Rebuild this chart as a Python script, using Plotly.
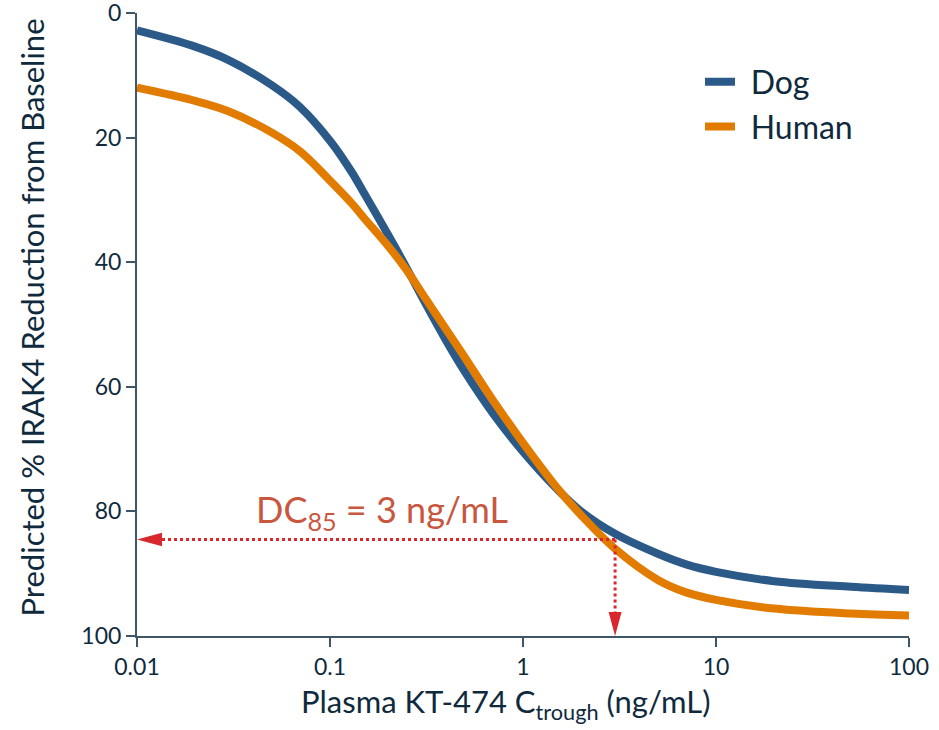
import plotly.graph_objects as go
import numpy as np

# ---- data ----
conc = [0.01, 0.02, 0.03, 0.05, 0.07, 0.1, 0.13, 0.15, 0.2, 0.25, 0.3, 0.4, 0.5,
        0.7, 1, 1.5, 2, 3, 5, 7, 10, 20, 50, 100]
dog = [2.8, 5.4, 7.6, 11.6, 15.1, 20.5, 25.6, 28.9, 35.6, 41.0, 45.6, 52.6, 57.6,
       64.3, 70.4, 76.4, 80.0, 83.6, 86.8, 88.5, 89.7, 91.2, 92.1, 92.6]
human = [12.0, 14.1, 15.8, 19.2, 22.2, 26.9, 30.6, 32.9, 37.4, 41.3, 45.0, 50.8, 55.3,
         62.2, 69.0, 76.2, 80.6, 86.0, 91.0, 93.0, 94.2, 95.6, 96.4, 96.7]
series_names = ["Dog", "Human"]
series_colors = ["#2b5a88", "#e27c00"]

dc85_conc = 3.0
dc85_level = 84.5
x_min, x_max = 0.01, 100
y_min, y_max = 0, 100

x_tickvals = [0.01, 0.1, 1, 10, 100]
x_ticktext = ["0.01", "0.1", "1", "10", "100"]
y_tickvals = [0, 20, 40, 60, 80, 100]

red = "#d9272e"
txt = "#0f2a3d"
axis_col = "#3e5668"
FONT = "Lato"

W, H = 939, 730
ML, MR, MT, MB = 137, 30, 13, 94

fig = go.Figure()

for name, vals, col in zip(series_names, [dog, human], series_colors):
    fig.add_trace(go.Scatter(x=conc, y=vals, mode="lines", name="\u2004" + name,
                             line=dict(color=col, width=8, shape="spline", smoothing=1.0),
                             hoverinfo="skip"))

# plot geometry (pixels per unit) used for arrow heads
plot_w = W - ML - MR
plot_h = H - MT - MB
px_per_decade = plot_w / (np.log10(x_max) - np.log10(x_min))
px_per_unit = plot_h / (y_max - y_min)

# left arrow head
ah_len = 25 / px_per_decade
ah_half = 6.7 / px_per_unit
xb = x_min * 10 ** ah_len
fig.add_trace(go.Scatter(x=[x_min, xb, xb, x_min],
                         y=[dc85_level, dc85_level - ah_half, dc85_level + ah_half, dc85_level],
                         mode="lines", fill="toself", fillcolor=red, line=dict(color=red, width=0),
                         showlegend=False, hoverinfo="skip"))
# horizontal dotted line
fig.add_trace(go.Scatter(x=[xb, dc85_conc * 10 ** (1.5 / px_per_decade)], y=[dc85_level, dc85_level],
                         mode="lines", line=dict(color=red, width=3, dash="3px,3px"),
                         showlegend=False, hoverinfo="skip"))
# down arrow head
dh_len = 24 / px_per_unit
dh_half = 6.5 / px_per_decade
yb = y_max - dh_len
fig.add_trace(go.Scatter(x=[dc85_conc, dc85_conc * 10 ** -dh_half, dc85_conc * 10 ** dh_half, dc85_conc],
                         y=[y_max, yb, yb, y_max],
                         mode="lines", fill="toself", fillcolor=red, line=dict(color=red, width=0),
                         showlegend=False, hoverinfo="skip"))
# vertical dotted line
fig.add_trace(go.Scatter(x=[dc85_conc, dc85_conc], y=[dc85_level, yb],
                         mode="lines", line=dict(color=red, width=3, dash="3px,3px"),
                         showlegend=False, hoverinfo="skip"))

fig.add_annotation(x=np.log10(0.186), y=80.0, xref="x", yref="y",
                   text="DC<sub>85</sub> = 3 ng/mL", showarrow=False,
                   font=dict(family=FONT, size=36, color="#c9573f"))

# axis titles (placed as annotations to match the reference offsets)
fig.add_annotation(x=(506 - ML) / plot_w, y=-(703 - (H - MB)) / plot_h, xref="paper", yref="paper",
                   xanchor="center", yanchor="middle", showarrow=False,
                   text="Plasma KT-474 C<sub>trough</sub> (ng/mL)",
                   font=dict(family=FONT, size=31, color=txt))
fig.add_annotation(x=-(ML - 31) / plot_w, y=1 - (317.5 - MT) / plot_h, xref="paper", yref="paper",
                   xanchor="center", yanchor="middle", showarrow=False, textangle=-90,
                   text="Predicted % IRAK4 Reduction from Baseline",
                   font=dict(family=FONT, size=31, color=txt))

fig.update_layout(
    width=W, height=H,
    margin=dict(l=ML, r=MR, t=MT, b=MB, autoexpand=False),
    paper_bgcolor="white", plot_bgcolor="white",
    font=dict(family=FONT, color=txt),
    showlegend=True,
    legend=dict(x=(700 - ML) / plot_w, y=1 - (54.5 - MT) / plot_h, xanchor="left", yanchor="top",
                font=dict(family=FONT, size=32, color=txt),
                bgcolor="rgba(0,0,0,0)", tracegroupgap=0, itemwidth=30),
    xaxis=dict(type="log", range=[np.log10(x_min), np.log10(x_max)],
               tickvals=x_tickvals, ticktext=x_ticktext, automargin=False,
               ticks="outside", ticklen=9, tickwidth=2, tickcolor=axis_col,
               showline=True, linecolor=axis_col, linewidth=2,
               showgrid=False, zeroline=False, ticklabeloverflow="allow",
               tickfont=dict(family=FONT, size=23, color=txt)),
    yaxis=dict(range=[y_max, y_min], tickvals=y_tickvals, automargin=False,
               ticks="outside", ticklen=9, tickwidth=2, tickcolor=axis_col,
               showline=True, linecolor=axis_col, linewidth=2,
               showgrid=False, zeroline=False, ticklabeloverflow="allow",
               tickfont=dict(family=FONT, size=23, color=txt)),
)

fig.write_html("out.html", config={"displayModeBar": False},
               post_script="document.body.style.margin='0px';")
